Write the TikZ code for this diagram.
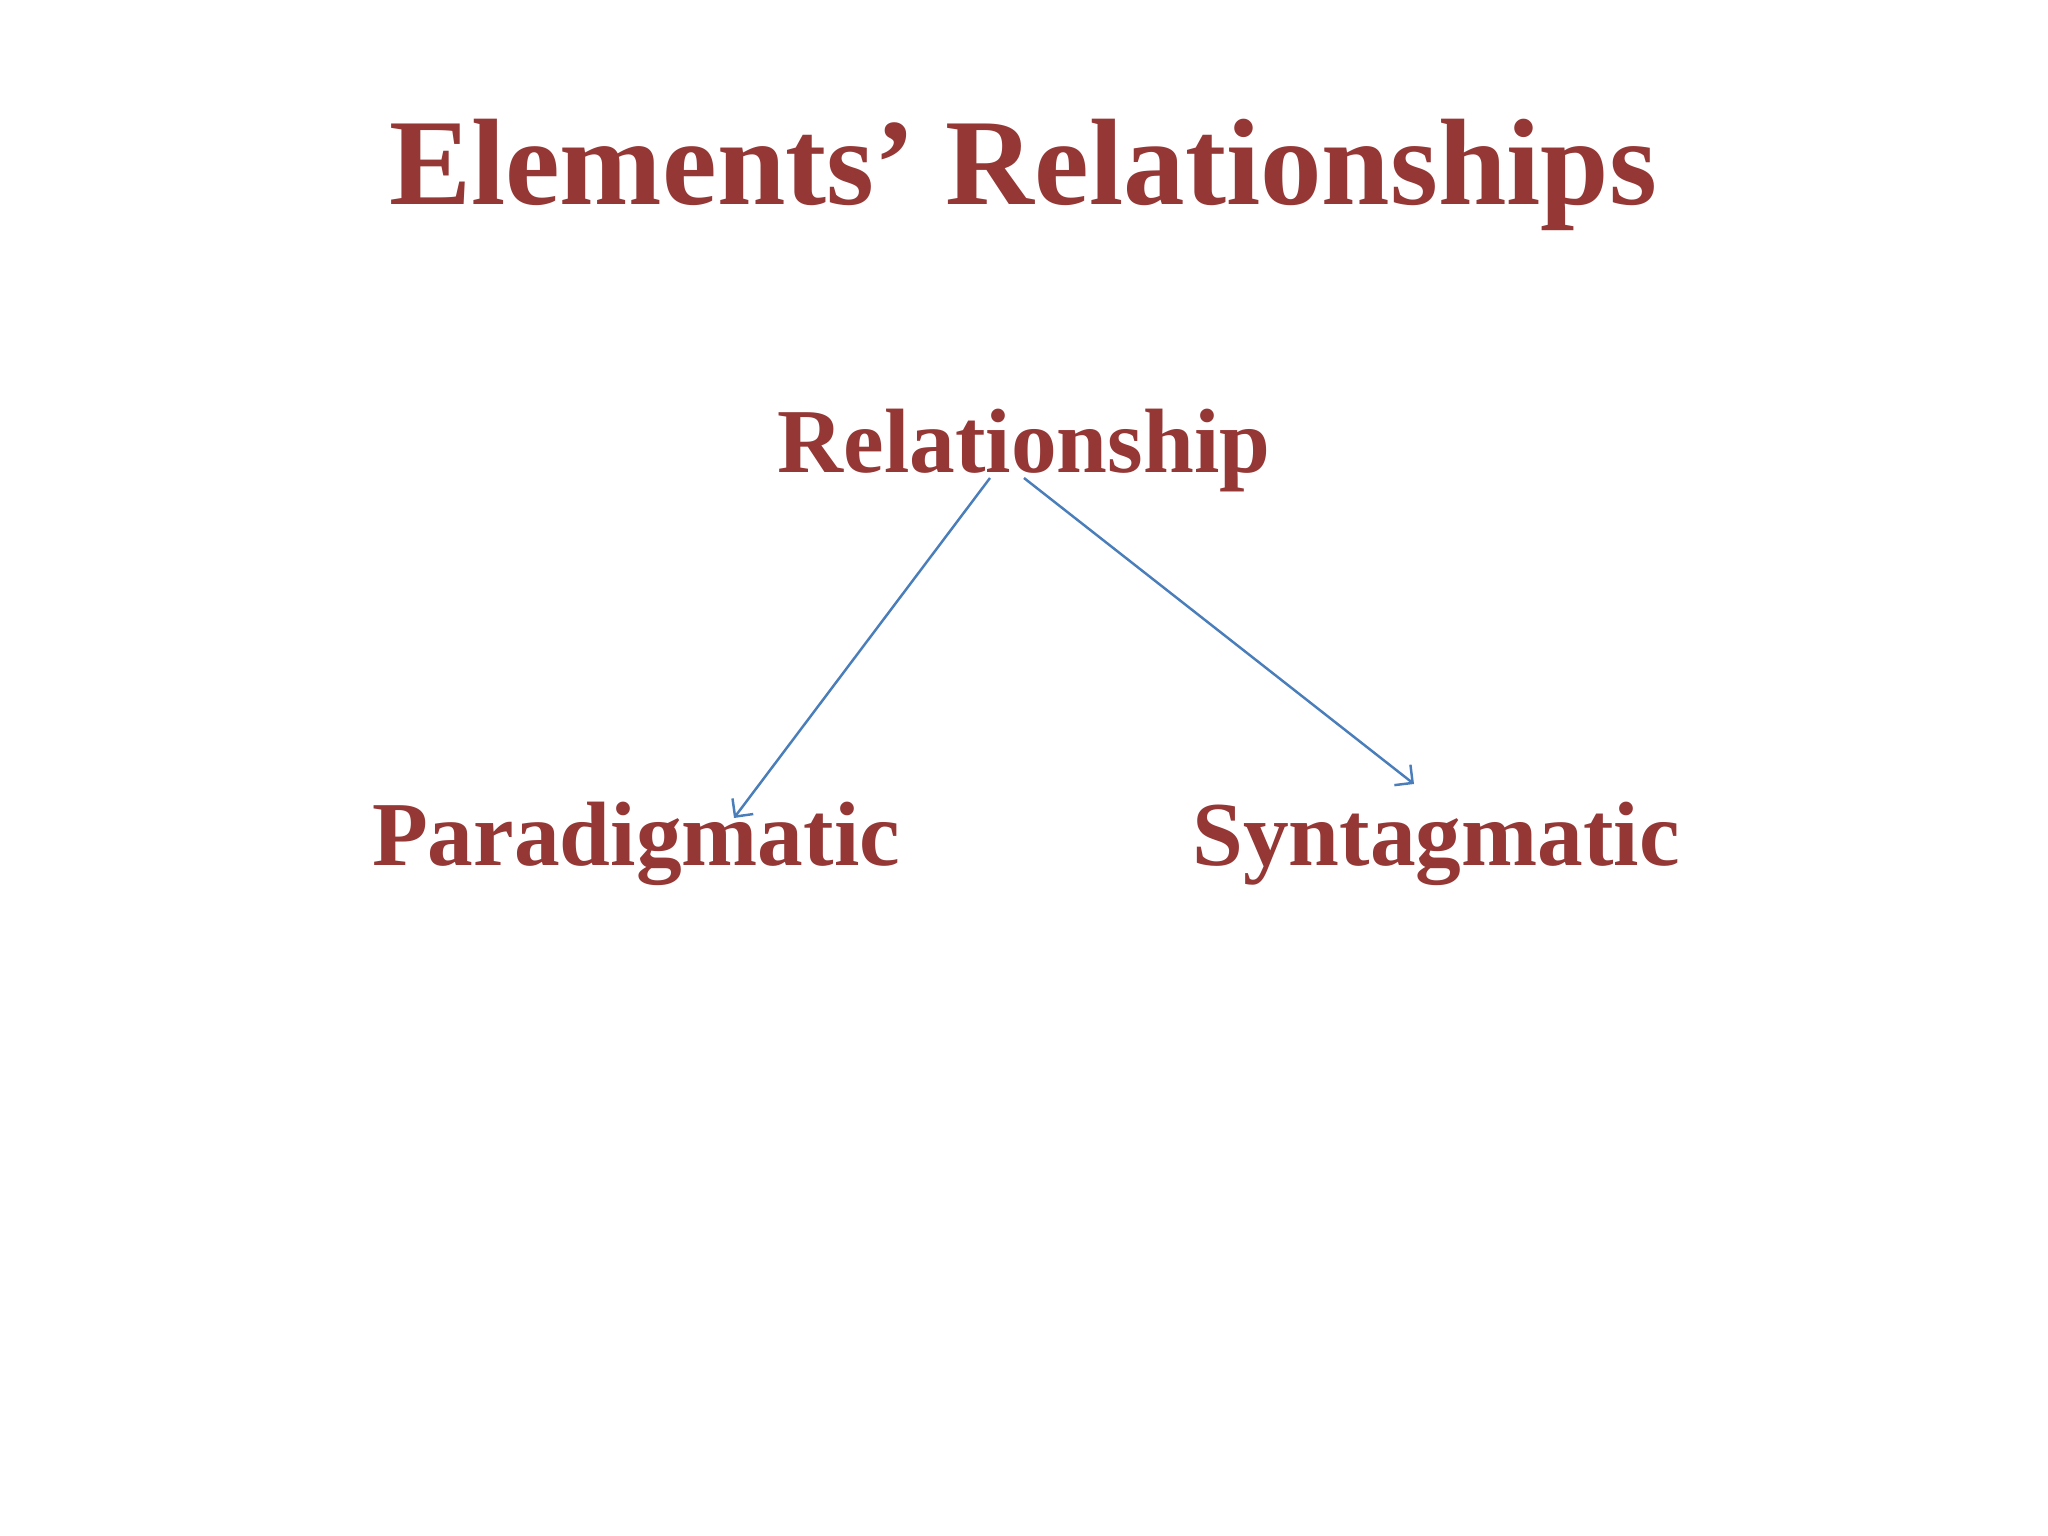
\documentclass[tikz,border=0pt]{standalone}
\usepackage{fontspec}
\setmainfont{Liberation Serif}
\usetikzlibrary{arrows.meta}
\definecolor{slidered}{HTML}{953735}
\definecolor{arrowblue}{HTML}{4A7EBB}
\begin{document}
\begin{tikzpicture}[
    word/.style={text=slidered,font=\bfseries,inner sep=0pt,anchor=base},
    link/.style={draw=arrowblue,line width=.7pt,-{Straight Barb[length=1.3mm,width=2.6mm]}}]
    \fill[white] (0,0) rectangle (20.48,-15.36);
    \node[word,font=\fontsize{35}{40}\selectfont\bfseries] (title) at (10.23,-2.05) {Elements’ Relationships};
    \node[word,font=\fontsize{26}{30}\selectfont\bfseries] (rel) at (10.24,-4.73) {Relationship};
    \node[word,font=\fontsize{26}{30}\selectfont\bfseries] (par) at (6.36,-8.65) {Paradigmatic};
    \node[word,font=\fontsize{26}{30}\selectfont\bfseries] (syn) at (14.36,-8.65) {Syntagmatic};
    \draw[link] ([shift={(-.34,-.05)}]rel.base) -- ([shift={(.98,.47)}]par.base);
    \draw[link] ([shift={(0,-.05)}]rel.base) -- ([shift={(-.22,.81)}]syn.base);
  \end{tikzpicture}
\end{document}
